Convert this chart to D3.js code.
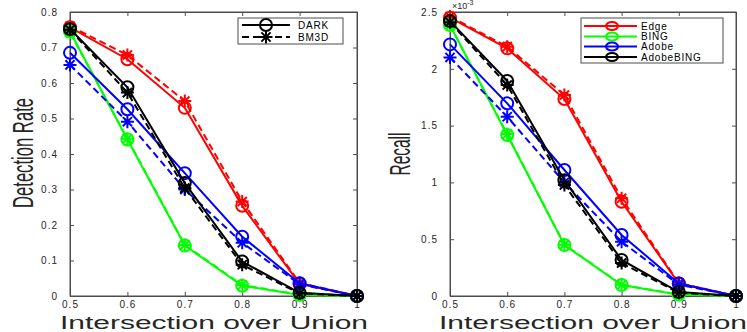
<!DOCTYPE html>
<html><head><meta charset="utf-8">
<script src="https://cdn.jsdelivr.net/npm/d3@7"></script>
<style>
body{margin:0;background:#fff;}
svg{display:block;font-family:"Liberation Sans",Arial,Helvetica,sans-serif;}
</style></head><body>
<svg id="c" width="747" height="332"></svg>
<script>
// ---- data ----
const iou = [0.5, 0.6, 0.7, 0.8, 0.9, 1.0];
const xTickLabels = ["0.5", "0.6", "0.7", "0.8", "0.9", "1"];
const methods = ["Edge", "BING", "Adobe", "AdobeBING"];
const methodColors = ["#ff0000", "#00ff00", "#0000ff", "#000000"];
const variants = ["DARK", "BM3D"];

// Detection rate (left)
const detDark = [
  [0.757, 0.667, 0.530, 0.254, 0.034, 0],
  [0.745, 0.441, 0.142, 0.029, 0.003, 0],
  [0.685, 0.526, 0.346, 0.167, 0.036, 0],
  [0.752, 0.588, 0.318, 0.097, 0.009, 0]
];
const detBM3D = [
  [0.760, 0.679, 0.549, 0.266, 0.037, 0],
  [0.742, 0.443, 0.144, 0.031, 0.004, 0],
  [0.651, 0.491, 0.300, 0.150, 0.033, 0],
  [0.750, 0.573, 0.304, 0.088, 0.007, 0]
];
const detTicks = [0, 0.1, 0.2, 0.3, 0.4, 0.5, 0.6, 0.7, 0.8];
const detTickLabels = ["0", "0.1", "0.2", "0.3", "0.4", "0.5", "0.6", "0.7", "0.8"];

// Recall (right), in units of 1e-3
const recDark = [
  [2.450, 2.180, 1.734, 0.830, 0.110, 0],
  [2.385, 1.417, 0.449, 0.097, 0.012, 0],
  [2.215, 1.696, 1.109, 0.537, 0.110, 0],
  [2.420, 1.893, 1.020, 0.317, 0.035, 0]
];
const recBM3D = [
  [2.460, 2.195, 1.769, 0.860, 0.115, 0],
  [2.380, 1.425, 0.452, 0.099, 0.013, 0],
  [2.100, 1.578, 1.000, 0.478, 0.100, 0],
  [2.410, 1.857, 0.977, 0.290, 0.028, 0]
];
const recTicks = [0, 0.5, 1, 1.5, 2, 2.5];
const recTickLabels = ["0", "0.5", "1", "1.5", "2", "2.5"];

// ---- drawing ----
const svg = d3.select("#c");
const axisColor = "#4d4d4d";

function asteriskPath(r) {
  const d = r * 0.7071;
  return `M${-r},0L${r},0M0,${-r}L0,${r}M${-d},${-d}L${d},${d}M${-d},${d}L${d},${-d}`;
}
function drawMarker(g, kind, x, y, color) {
  if (kind === "o") {
    g.append("circle").attr("cx", x).attr("cy", y).attr("r", 6)
      .attr("fill", "none").attr("stroke", color).attr("stroke-width", 2);
  } else {
    g.append("path").attr("d", asteriskPath(6.5)).attr("transform", `translate(${x},${y})`)
      .attr("fill", "none").attr("stroke", color).attr("stroke-width", 2);
  }
}

function panel(opt) {
  const g = svg.append("g");
  const x = d3.scaleLinear().domain([0.5, 1]).range([opt.x0, opt.x1]);
  const y = d3.scaleLinear().domain([0, opt.ymax]).range([296, 12]);

  g.append("rect").attr("x", opt.x0).attr("y", 12).attr("width", opt.x1 - opt.x0).attr("height", 284)
    .attr("fill", "none").attr("stroke", axisColor).attr("stroke-width", 1);

  const tl = 4;
  const fmtX = (d, i) => xTickLabels[i];
  const fmtY = (d, i) => opt.yLabels[i];
  const axB = g.append("g").attr("transform", `translate(0,296)`)
    .call(d3.axisBottom(x).tickValues(iou).tickFormat(fmtX).tickSizeInner(-tl).tickSizeOuter(0).tickPadding(5));
  const axT = g.append("g").attr("transform", `translate(0,12)`)
    .call(d3.axisTop(x).tickValues(iou).tickFormat("").tickSizeInner(-tl).tickSizeOuter(0));
  const axL = g.append("g").attr("transform", `translate(${opt.x0},0)`)
    .call(d3.axisLeft(y).tickValues(opt.yTicks).tickFormat(fmtY).tickSizeInner(-tl).tickSizeOuter(0).tickPadding(12));
  const axR = g.append("g").attr("transform", `translate(${opt.x1},0)`)
    .call(d3.axisRight(y).tickValues(opt.yTicks).tickFormat("").tickSizeInner(-tl).tickSizeOuter(0));
  [axB, axT, axL, axR].forEach(a => {
    a.select(".domain").attr("stroke", axisColor);
    a.selectAll(".tick line").attr("stroke", axisColor);
    a.selectAll(".tick text").attr("fill", "#262626").attr("font-size", 10)
      .attr("letter-spacing", "1px").attr("font-family", "Liberation Sans, Arial, sans-serif");
  });

  methods.forEach((m, i) => {
    [[opt.dark[i], null, "o"], [opt.bm3d[i], "7,4", "*"]].forEach(([vals, dash, mk]) => {
      const pts = iou.map((v, j) => [x(v), y(vals[j])]);
      g.append("path").attr("d", d3.line()(pts)).attr("fill", "none")
        .attr("stroke", methodColors[i]).attr("stroke-width", 2)
        .attr("stroke-dasharray", dash);
      pts.forEach(p => drawMarker(g, mk, p[0], p[1], methodColors[i]));
    });
  });

  g.append("text").attr("x", opt.xlx).attr("y", 328.5).attr("font-size", 18)
    .attr("textLength", opt.xlw).attr("lengthAdjust", "spacingAndGlyphs")
    .attr("fill", "#262626").text("Intersection over Union");
  g.append("text").attr("transform", `translate(${opt.ylx},${opt.yly}) rotate(-90)`)
    .attr("text-anchor", "middle").attr("font-size", 30)
    .attr("textLength", opt.ylw).attr("lengthAdjust", "spacingAndGlyphs")
    .attr("fill", "#262626").text(opt.ylabel);
  return { g, x, y };
}

const L = panel({ x0: 70, x1: 357, ymax: 0.8, yTicks: detTicks, yLabels: detTickLabels,
  dark: detDark, bm3d: detBM3D, xlx: 60, xlw: 308, ylx: 33, yly: 153, ylw: 110, ylabel: "Detection Rate" });
const R = panel({ x0: 450, x1: 736, ymax: 2.5, yTicks: recTicks, yLabels: recTickLabels,
  dark: recDark, bm3d: recBM3D, xlx: 439, xlw: 308, ylx: 410, yly: 154, ylw: 43, ylabel: "Recall" });

const ex = R.g.append("text").attr("x", 452).attr("y", 9).attr("font-size", 9).attr("fill", "#262626");
ex.append("tspan").text("\u00d710");
ex.append("tspan").attr("dy", -4).attr("font-size", 7).text("-3");

(function () {
  const g = L.g.append("g");
  g.append("rect").attr("x", 238).attr("y", 18).attr("width", 105).attr("height", 26)
    .attr("fill", "#fff").attr("stroke", axisColor).attr("stroke-width", 1);
  const rows = [[25, null, "o"], [37, "7,4", "*"]];
  rows.forEach((r, i) => {
    g.append("line").attr("x1", 242).attr("x2", 290).attr("y1", r[0]).attr("y2", r[0])
      .attr("stroke", "#000").attr("stroke-width", 2).attr("stroke-dasharray", r[1]);
    drawMarker(g, r[2], 266, r[0], "#000");
    g.append("text").attr("x", 298).attr("y", r[0] + 3.5).attr("font-size", 10)
      .attr("letter-spacing", "0.8px").attr("fill", "#000").text(variants[i]);
  });
})();

(function () {
  const g = R.g.append("g");
  g.append("rect").attr("x", 581).attr("y", 18).attr("width", 142).attr("height", 45)
    .attr("fill", "#fff").attr("stroke", axisColor).attr("stroke-width", 1);
  const ys = [26, 36.5, 46.5, 57];
  methods.forEach((m, i) => {
    g.append("line").attr("x1", 584).attr("x2", 637).attr("y1", ys[i]).attr("y2", ys[i])
      .attr("stroke", methodColors[i]).attr("stroke-width", 2);
    g.append("ellipse").attr("cx", 612).attr("cy", ys[i]).attr("rx", 6).attr("ry", 4)
      .attr("fill", "none").attr("stroke", methodColors[i]).attr("stroke-width", 2);
    g.append("text").attr("x", 641).attr("y", ys[i] + 3.5).attr("font-size", 10)
      .attr("letter-spacing", "0.8px").attr("fill", "#000").text(m);
  });
})();
</script>
</body></html>
